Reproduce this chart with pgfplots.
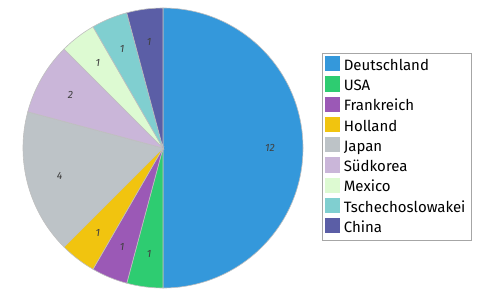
\documentclass[border=0pt]{standalone}
\usepackage{fontspec}
\setmainfont{Fira Sans}
\usepackage{pgfplots}
\usepackage{pgfplotstable}
\pgfplotsset{compat=1.18}

\definecolor{cDE}{HTML}{3498DB}
\definecolor{cUS}{HTML}{2ECC71}
\definecolor{cFR}{HTML}{9B59B6}
\definecolor{cNL}{HTML}{F1C40F}
\definecolor{cJP}{HTML}{BDC3C7}
\definecolor{cKR}{HTML}{CAB6D9}
\definecolor{cMX}{HTML}{DDFAD2}
\definecolor{cCS}{HTML}{80CFD0}
\definecolor{cCN}{HTML}{5B5EA6}

% country, count, slice colour
\pgfplotstableread{
country value color
Deutschland 12 cDE
USA 1 cUS
Frankreich 1 cFR
Holland 1 cNL
Japan 4 cJP
Südkorea 2 cKR
Mexico 1 cMX
Tschechoslowakei 1 cCS
China 1 cCN
}\piedata

\begin{document}
\begin{tikzpicture}
\begin{axis}[
  x=1bp, y=1bp,
  xmin=-163, xmax=337, ymin=-144, ymax=148,
  hide axis,
  clip=false,
  legend cell align=left,
  legend image code/.code={\fill[#1] (0bp,-4bp) rectangle (14bp,10bp);},
  legend style={at={(axis cs:159,95)}, anchor=north west,
    draw=black!35, line width=1.2bp, font=\fontsize{15bp}{17bp}\selectfont,
    inner xsep=2bp, inner ysep=2.5bp, row sep=0bp,
    nodes={inner xsep=4bp, inner ysep=2.4bp, text height=11bp, text depth=3.5bp}},
]
\path (axis cs:-163,-144) rectangle (axis cs:337,148);
\pgfplotstablegetrowsof{\piedata}
\pgfmathtruncatemacro\nlast{\pgfplotsretval-1}
% total of all counts
\def\total{0}
\pgfplotsforeachungrouped \i in {0,...,\nlast}{%
  \pgfplotstablegetelem{\i}{value}\of\piedata
  \pgfmathsetmacro\total{\total+\pgfplotsretval}%
}
\def\cum{0}
\pgfplotsforeachungrouped \i in {0,...,\nlast}{%
  \pgfplotstablegetelem{\i}{value}\of\piedata \let\v\pgfplotsretval
  \pgfplotstablegetelem{\i}{color}\of\piedata \let\c\pgfplotsretval
  \pgfplotstablegetelem{\i}{country}\of\piedata \let\n\pgfplotsretval
  \pgfmathsetmacro\a{90-\cum*360/\total}%
  \pgfmathsetmacro\b{90-(\cum+\v)*360/\total}%
  \pgfmathsetmacro\m{(\a+\b)/2}%
  \pgfmathsetmacro\ax{140*cos(\a)}%
  \pgfmathsetmacro\ay{140*sin(\a)}%
  \pgfmathsetmacro\lx{107*cos(\m)}%
  \pgfmathsetmacro\ly{107*sin(\m)}%
  \edef\cmd{%
    \noexpand\fill[\c, draw=black!25, line width=0.6bp]
      (axis cs:0,0) -- (axis cs:\ax,\ay)
      arc[start angle=\a, end angle=\b, radius=140bp] -- cycle;
    \noexpand\node[text=black!75, font=\noexpand\fontsize{10.5bp}{12bp}\noexpand\selectfont\noexpand\itshape]
      at (axis cs:\lx,\ly) {\v};
    \noexpand\addlegendimage{\c}
    \noexpand\addlegendentry{\n}
  }%
  \cmd
  \pgfmathsetmacro\cum{\cum+\v}%
}
\end{axis}
\end{tikzpicture}
\end{document}
